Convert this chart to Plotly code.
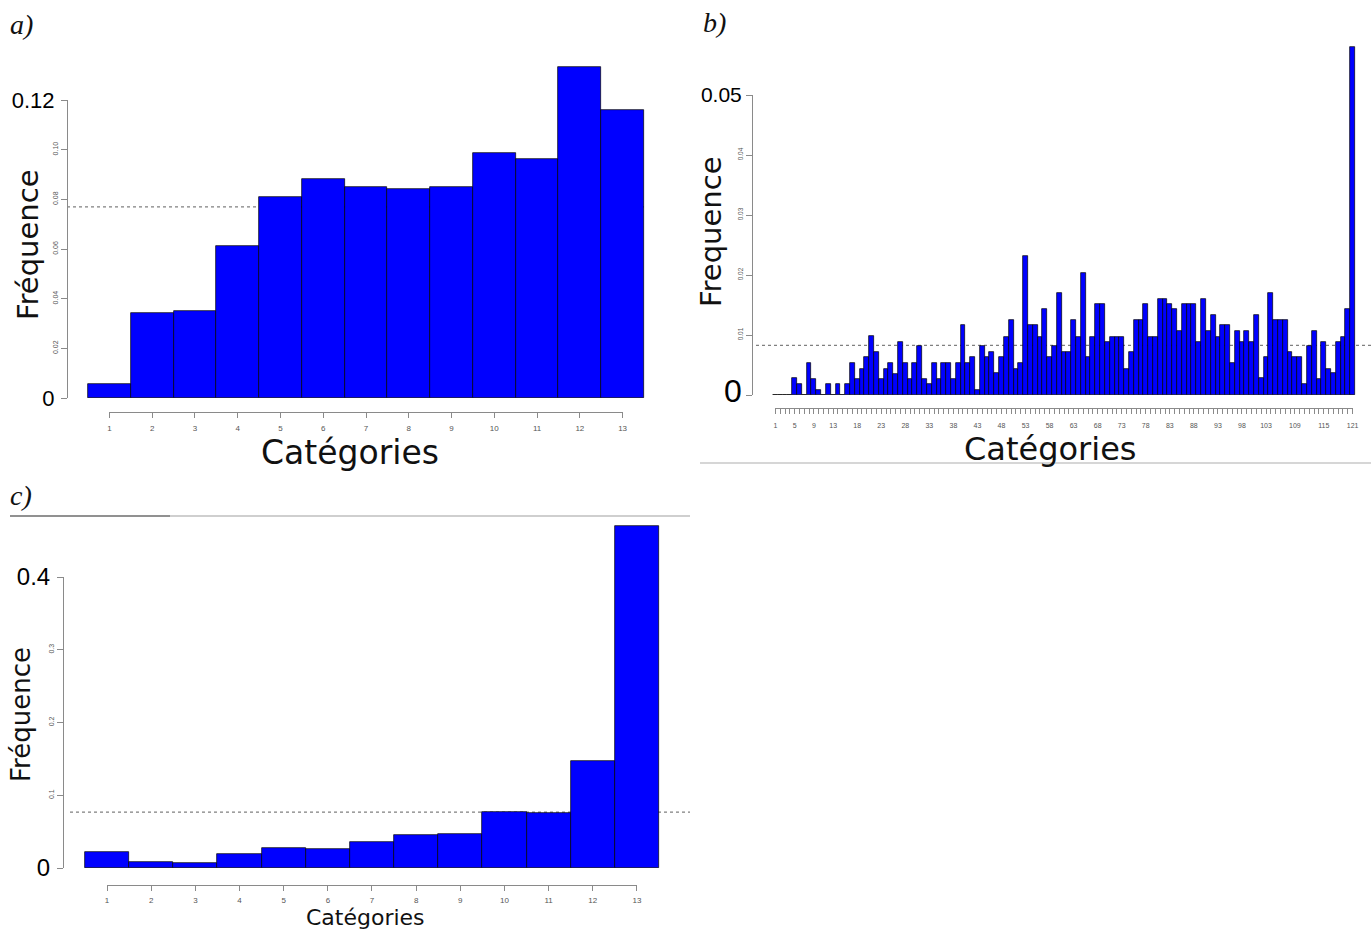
import plotly.graph_objects as go

W, H = 1371, 931

# ---------------- data ----------------
cat_a = list(range(1, 14))
freq_a = [0.0056, 0.0342, 0.0351, 0.0614, 0.0808, 0.0882, 0.0850,
          0.0842, 0.0850, 0.0988, 0.0964, 0.1331, 0.1160]

cat_b = list(range(1, 122))
freq_b = [0, 0, 0, 0, 0.0028, 0.0018, 0, 0.0053, 0.0027, 0.0009,
          0, 0.0018, 0, 0.0018, 0, 0.0018, 0.0053, 0.0027, 0.0044, 0.0063,
          0.0098, 0.0071, 0.0027, 0.0044, 0.0053, 0.0035, 0.0089, 0.0053, 0.0027, 0.0053,
          0.0082, 0.0027, 0.0018, 0.0053, 0.0027, 0.0053, 0.0053, 0.0027, 0.0053, 0.0117,
          0.0053, 0.0063, 0.0009, 0.0082, 0.0063, 0.0071, 0.0036, 0.0063, 0.0097, 0.0125,
          0.0044, 0.0053, 0.0232, 0.0116, 0.0116, 0.0097, 0.0143, 0.0063, 0.0081, 0.0170,
          0.0071, 0.0071, 0.0125, 0.0097, 0.0204, 0.0063, 0.0097, 0.0151, 0.0151, 0.0089,
          0.0097, 0.0097, 0.0097, 0.0044, 0.0071, 0.0125, 0.0125, 0.0151, 0.0097, 0.0097,
          0.0160, 0.0160, 0.0151, 0.0143, 0.0107, 0.0151, 0.0151, 0.0151, 0.0089, 0.0160,
          0.0107, 0.0133, 0.0097, 0.0116, 0.0116, 0.0053, 0.0107, 0.0089, 0.0107, 0.0089,
          0.0133, 0.0028, 0.0063, 0.0170, 0.0125, 0.0125, 0.0125, 0.0071, 0.0063, 0.0063,
          0.0018, 0.0081, 0.0107, 0.0027, 0.0089, 0.0044, 0.0036, 0.0089, 0.0097, 0.0143,
          0.0580]

cat_c = list(range(1, 14))
freq_c = [0.0215, 0.0082, 0.0073, 0.0188, 0.0270, 0.0261, 0.0357,
          0.0458, 0.0467, 0.0770, 0.0756, 0.1475, 0.4696]

yticks_small_a = [0.02, 0.04, 0.06, 0.08, 0.10]
yticks_big_a = [0, 0.12]
ylabels_big_a = ["0", "0.12"]

yticks_small_b = [0.01, 0.02, 0.03, 0.04]
yticks_big_b = [0, 0.05]
ylabels_big_b = ["<span style='font-size:32px'>0</span>", "0.05"]

yticks_small_c = [0.1, 0.2, 0.3]
yticks_big_c = [0, 0.4]
ylabels_big_c = ["0", "0.4"]

xlabels_b = [1, 5, 9, 13, 18, 23, 28, 33, 38, 43, 48, 53, 58, 63, 68, 73,
             78, 83, 88, 93, 98, 103, 109, 115, 121]

x_title = "Catégories"
y_titles = ["Fréquence", "Frequence", "Fréquence"]
panel_labels = ["a)", "b)", "c)"]

# ---------------- helpers ----------------
def fx(p):
    return p / W


def fy(p):
    return 1 - p / H


fig = go.Figure()
layout = dict(width=W, height=H, margin=dict(l=0, r=0, t=0, b=0, autoexpand=False),
              paper_bgcolor="white", plot_bgcolor="rgba(0,0,0,0)",
              showlegend=False, bargap=0)
shapes, annotations = [], []
cnt = {"x": 0, "y": 0}


def new_ax(letter):
    cnt[letter] += 1
    i = cnt[letter]
    name = letter + "axis" + ("" if i == 1 else str(i))
    ref = letter + ("" if i == 1 else str(i))
    return name, ref


AXCOL = "#8a8a8a"
SANS = "DejaVu Sans"
TICKF = "Liberation Sans"


def add_panel(cats, vals, ys_small, ys_big, ys_big_txt, xt_vals, xt_text, g,
              ytitle, plabel):
    N = len(cats)
    L, R, D0, D1 = g["L"], g["R"], g["D0"], g["D1"]
    s = N / (R - L)
    xrange_ = [0.5 - (L - D0) * s, N + 0.5 + (D1 - R) * s]
    y0, ytp, ytv, ydt = g["y0"], g["ytop_px"], g["ytop_val"], g["ydom_top"]
    yrange_ = [0, ytv * (y0 - ydt) / (y0 - ytp)]

    xn, xr = new_ax("x")
    yn, yr = new_ax("y")
    layout[xn] = dict(domain=[fx(D0), fx(D1)], range=xrange_, visible=False,
                      anchor=yr, fixedrange=True, automargin=False)
    layout[yn] = dict(domain=[fy(y0), fy(ydt)], range=yrange_, visible=False,
                      anchor=xr, fixedrange=True, automargin=False)
    fig.add_trace(go.Bar(x=cats, y=vals, xaxis=xr, yaxis=yr, width=1,
                         marker=dict(color="#0000FF",
                                     line=dict(color="#000000", width=0.7))))

    # reference line 1/N (dotted), drawn behind the bars
    shapes.append(dict(type="line", xref=xr + " domain", yref=yr,
                       x0=(g["ln0"] - D0) / (D1 - D0), x1=(g["ln1"] - D0) / (D1 - D0),
                       y0=1 / N, y1=1 / N, layer="below",
                       line=dict(color="#808080", width=1.2, dash="dot")))

    # R-style x axis (separate, below bars)
    bw = (R - L) / N
    xdn, xdr = new_ax("x")
    layout[xdn] = dict(domain=[fx(L + bw / 2), fx(R - bw / 2)], range=[1, N],
                       anchor="free", position=fy(g["xaxis_y"]),
                       showline=True, linecolor=AXCOL, linewidth=1,
                       ticks="outside", ticklen=5, tickcolor=AXCOL,
                       tickvals=xt_vals, ticktext=xt_text,
                       tickfont=dict(family=TICKF, size=g["xtick_size"], color="#555"),
                       ticklabelstandoff=g["xstand"], automargin=False,
                       showgrid=False, zeroline=False, fixedrange=True)
    fig.add_trace(go.Scatter(x=[], y=[], xaxis=xdr, yaxis=yr, hoverinfo="skip"))

    # y axis with small rotated labels
    ysn, ysr = new_ax("y")
    all_ticks = sorted(ys_small + ys_big)
    layout[ysn] = dict(domain=[fy(y0), fy(ytp)], range=[0, ytv],
                       anchor="free", position=fx(g["yaxis_x"]),
                       showline=True, linecolor=AXCOL, linewidth=1,
                       ticks="outside", ticklen=6, tickcolor=AXCOL,
                       tickvals=all_ticks,
                       ticktext=[("%.2f" % t if g["fmt2"] else "%.1f" % t) if t in ys_small else ""
                                 for t in all_ticks],
                       tickangle=-90, automargin=False,
                       tickfont=dict(family=TICKF, size=g["ysmall_size"], color="#555"),
                       showgrid=False, zeroline=False, fixedrange=True)
    fig.add_trace(go.Scatter(x=[], y=[], xaxis=xr, yaxis=ysr, hoverinfo="skip"))

    # y axis with big horizontal labels
    ybn, ybr = new_ax("y")
    layout[ybn] = dict(domain=[fy(y0), fy(ytp)], range=[0, ytv],
                       anchor="free", position=fx(g["yaxis_x"]),
                       showline=False, ticks="outside", ticklen=g["bigoff"],
                       tickcolor="rgba(0,0,0,0)", automargin=False,
                       tickvals=ys_big, ticktext=ys_big_txt,
                       tickfont=dict(family=TICKF, size=g["ybig_size"], color="#000"),
                       showgrid=False, zeroline=False, fixedrange=True)
    fig.add_trace(go.Scatter(x=[], y=[], xaxis=xr, yaxis=ybr, hoverinfo="skip"))

    annotations.append(dict(text=x_title, xref="paper", yref="paper",
                            x=fx(g["xt_x"]), y=fy(g["xt_y"]), xanchor="center",
                            yanchor="middle", showarrow=False,
                            font=dict(family=SANS, size=g["xt_size"], color="#111")))
    annotations.append(dict(text=ytitle, xref="paper", yref="paper",
                            x=fx(g["yt_x"]), y=fy(g["yt_y"]), xanchor="center",
                            yanchor="middle", showarrow=False, textangle=-90,
                            font=dict(family=SANS, size=g["yt_size"], color="#111")))
    annotations.append(dict(text="<i>" + plabel + "</i>", xref="paper", yref="paper",
                            x=fx(g["pl_x"]), y=fy(g["pl_y"]), xanchor="left",
                            yanchor="middle", showarrow=False,
                            font=dict(family="Liberation Serif", size=28, color="#111")))


geo_a = dict(L=88, R=644, D0=67, D1=690, y0=398, ytop_px=100, ytop_val=0.12,
             ydom_top=40, yaxis_x=67, xaxis_y=412, xtick_size=8, xstand=3,
             ysmall_size=7, ybig_size=22, bigoff=8, fmt2=True, ln0=67, ln1=644,
             xt_x=350, xt_y=452, xt_size=33, yt_x=28, yt_y=245, yt_size=29,
             pl_x=8, pl_y=24)
geo_b = dict(L=773, R=1355, D0=752, D1=1371, y0=395, ytop_px=95, ytop_val=0.05,
             ydom_top=40, yaxis_x=752, xaxis_y=408, xtick_size=7, xstand=6,
             ysmall_size=6.5, ybig_size=21, bigoff=6, fmt2=True, ln0=756, ln1=1371,
             xt_x=1050, xt_y=449, xt_size=32, yt_x=711, yt_y=232, yt_size=29,
             pl_x=701, pl_y=22)
geo_c = dict(L=85, R=659, D0=63, D1=690, y0=868, ytop_px=577, ytop_val=0.4,
             ydom_top=520, yaxis_x=63, xaxis_y=885, xtick_size=8, xstand=2,
             ysmall_size=7, ybig_size=24, bigoff=8, fmt2=False, ln0=70, ln1=690,
             xt_x=365, xt_y=917, xt_size=22, yt_x=21, yt_y=715, yt_size=26,
             pl_x=8, pl_y=495)

add_panel(cat_a, freq_a, yticks_small_a, yticks_big_a, ylabels_big_a,
          cat_a, [str(c) for c in cat_a], geo_a, y_titles[0], panel_labels[0])
add_panel(cat_b, freq_b, yticks_small_b, yticks_big_b, ylabels_big_b,
          cat_b, [str(c) if c in xlabels_b else "" for c in cat_b], geo_b,
          y_titles[1], panel_labels[1])
add_panel(cat_c, freq_c, yticks_small_c, yticks_big_c, ylabels_big_c,
          cat_c, [str(c) for c in cat_c], geo_c, y_titles[2], panel_labels[2])

# thin frame lines of the original figure
shapes.append(dict(type="line", xref="paper", yref="paper", x0=fx(700), x1=fx(1371),
                   y0=fy(463), y1=fy(463), line=dict(color="#c8c8c8", width=1.5)))
shapes.append(dict(type="line", xref="paper", yref="paper", x0=fx(10), x1=fx(690),
                   y0=fy(516), y1=fy(516), line=dict(color="#a0a0a0", width=1.2)))
shapes.append(dict(type="line", xref="paper", yref="paper", x0=fx(10), x1=fx(170),
                   y0=fy(516), y1=fy(516), line=dict(color="#555555", width=1.2)))

layout["shapes"] = shapes
layout["annotations"] = annotations
fig.update_layout(**layout)
fig.write_html("out.html", config={"displayModeBar": False},
               post_script="document.body.style.margin='0';document.body.style.overflow='hidden';")
